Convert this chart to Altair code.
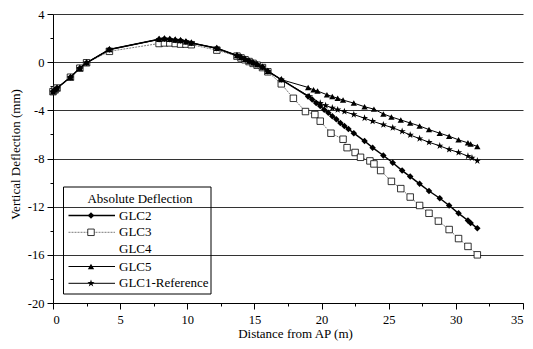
import altair as alt
import pandas as pd

# ---------------- data ----------------
early_x = [0.0, 0.15, 0.3, 1.3, 2.0, 2.5, 4.2, 7.9, 8.3, 8.7, 9.1, 9.5, 9.9, 10.3,
           12.2, 13.7, 14.0, 14.3, 14.6, 14.9, 15.2, 15.6, 16.0, 17.0]
early_y = [-2.45, -2.3, -2.15, -1.25, -0.5, -0.05, 1.05, 1.9, 1.95, 1.9, 1.85, 1.8, 1.7, 1.6,
           1.15, 0.55, 0.4, 0.25, 0.1, -0.05, -0.2, -0.4, -0.75, -1.45]
glc3_early_y = [-2.45, -2.3, -2.15, -1.25, -0.5, -0.05, 0.9, 1.55, 1.6, 1.6, 1.55, 1.5, 1.5, 1.45,
                1.0, 0.5, 0.35, 0.2, 0.05, -0.1, -0.25, -0.45, -0.8, -1.8]

glc2_tail_x = [19.0, 19.3, 19.6, 19.9, 20.2, 20.5, 20.8, 21.1, 21.4, 21.7, 22.0, 22.4, 23.2, 23.8,
               24.6, 25.3, 26.0, 26.6, 27.3, 28.0, 28.8, 29.5, 30.2, 30.9, 31.1, 31.6]
glc2_tail_y = [-2.85, -3.1, -3.4, -3.65, -3.95, -4.2, -4.5, -4.75, -5.05, -5.3, -5.55, -5.9, -6.55, -7.1,
               -7.75, -8.35, -9.0, -9.5, -10.1, -10.7, -11.3, -11.9, -12.55, -13.15, -13.35, -13.8]

glc3_tail_x = [17.9, 18.8, 19.5, 19.9, 20.7, 21.6, 21.9, 22.5, 22.9, 23.6, 23.9, 24.4, 25.2, 25.9,
               26.6, 27.3, 28.0, 28.7, 29.5, 30.2, 30.9, 31.6]
glc3_tail_y = [-3.0, -4.1, -4.35, -4.9, -5.9, -6.4, -7.1, -7.5, -7.9, -8.2, -8.45, -9.0, -9.9, -10.5,
               -11.2, -11.9, -12.55, -13.2, -13.9, -14.65, -15.3, -16.0]

glc5_tail_x = [19.0, 19.4, 19.7, 20.4, 20.8, 21.2, 21.6, 22.4, 23.2, 23.9, 24.6, 25.2, 25.9, 26.6,
               27.3, 28.0, 28.8, 29.5, 30.2, 30.9, 31.1, 31.6]
glc5_tail_y = [-2.1, -2.3, -2.4, -2.7, -2.85, -3.0, -3.15, -3.4, -3.7, -3.9, -4.3, -4.55, -4.8, -5.05,
               -5.3, -5.6, -5.9, -6.15, -6.45, -6.7, -6.8, -7.0]

ref_tail_x = [19.1, 19.9, 20.3, 20.8, 21.2, 21.7, 22.4, 23.2, 23.8, 24.6, 25.3, 26.0, 26.6, 27.3,
              28.0, 28.8, 29.5, 30.2, 30.9, 31.2, 31.6]
ref_tail_y = [-2.85, -3.4, -3.6, -3.8, -3.95, -4.1, -4.35, -4.65, -4.9, -5.2, -5.45, -5.75, -6.05, -6.35,
              -6.65, -6.95, -7.25, -7.5, -7.8, -7.95, -8.2]

legend_title = "Absolute Deflection"
legend_labels = ["GLC2", "GLC3", "GLC4", "GLC5", "GLC1-Reference"]

x_ticks = [i * 2.5 for i in range(15)]
y_ticks = [-20 + 2 * i for i in range(13)]

# ---------------- build ----------------
FONT = "Liberation Serif"
STAR = "M0,-1L0.225,-0.309L0.951,-0.309L0.363,0.118L0.588,0.809L0,0.382L-0.588,0.809L-0.363,0.118L-0.951,-0.309L-0.225,-0.309Z"


def frame(xs, ys):
    return pd.DataFrame({"x": xs, "y": ys, "i": list(range(len(xs)))})


df_glc2 = frame(early_x + glc2_tail_x, early_y + glc2_tail_y)
df_glc3 = frame(early_x + glc3_tail_x, glc3_early_y + glc3_tail_y)
df_glc5 = frame(early_x + glc5_tail_x, early_y + glc5_tail_y)
df_ref = frame(early_x + ref_tail_x, early_y + ref_tail_y)

x_enc = alt.X(
    "x:Q",
    scale=alt.Scale(domain=[0, 35], nice=False, zero=False),
    axis=alt.Axis(
        values=x_ticks,
        title="Distance from AP (m)",
        grid=False,
        labelExpr="datum.value % 5 === 0 ? '' + datum.value : ''",
        tickSize={"condition": {"test": "datum.value % 5 === 0", "value": 6}, "value": 3},
        labelPadding=4,
        titleX=242,
        titleY=30,
        titleBaseline="middle",
    ),
)
y_enc = alt.Y(
    "y:Q",
    scale=alt.Scale(domain=[-20, 4], nice=False, zero=False),
    axis=alt.Axis(
        values=y_ticks,
        title="Vertical Deflection (mm)",
        grid=True,
        gridOpacity={"condition": {"test": "datum.value % 4 === 0", "value": 1}, "value": 0},
        labelExpr="datum.value % 4 === 0 ? '' + datum.value : ''",
        tickSize={"condition": {"test": "datum.value % 4 === 0", "value": 6}, "value": 3},
        labelPadding=3,
        titleX=-38,
        titleY=140,
        titleBaseline="middle",
    ),
)


def layer_pair(df, line_kw, point_kw):
    base = alt.Chart(df).encode(x=x_enc, y=y_enc, order="i:Q")
    return base.mark_line(**line_kw) + base.mark_point(**point_kw)


glc3 = layer_pair(df_glc3,
                  dict(color="#7a7a7a", strokeWidth=1, strokeDash=[2, 1]),
                  dict(shape="square", filled=True, fill="white", stroke="black",
                       strokeWidth=0.8, size=42, opacity=1))
glc2 = layer_pair(df_glc2,
                  dict(color="black", strokeWidth=1.5),
                  dict(shape="diamond", filled=True, color="black", size=42, opacity=1))
glc5 = layer_pair(df_glc5,
                  dict(color="black", strokeWidth=1),
                  dict(shape="triangle-up", filled=True, color="black", size=40, opacity=1))
ref = layer_pair(df_ref,
                 dict(color="black", strokeWidth=1),
                 dict(shape=STAR, filled=True, color="black", size=58, opacity=1))

# ---------------- manual legend (plot-area pixels) ----------------
one = pd.DataFrame({"a": [0]})
legend_layers = [
    alt.Chart(one).mark_rect(fillOpacity=0, stroke="black", strokeWidth=1).encode(
        x=alt.value(10.5), x2=alt.value(158), y=alt.value(173), y2=alt.value(280)),
    alt.Chart(pd.DataFrame({"t": [legend_title]})).mark_text(
        font=FONT, fontSize=13, align="center", baseline="middle", color="black").encode(
        x=alt.value(87), y=alt.value(185), text="t:N"),
]
rows_y = [201.5, 218.3, 235, 252.5, 269.3]
styles = [
    (dict(color="black", strokeWidth=1.5), dict(shape="diamond", filled=True, color="black", size=42, opacity=1)),
    (dict(color="#7a7a7a", strokeWidth=1, strokeDash=[2, 1]),
     dict(shape="square", filled=True, fill="white", stroke="black", strokeWidth=0.8, size=42, opacity=1)),
    (None, None),
    (dict(color="black", strokeWidth=1), dict(shape="triangle-up", filled=True, color="black", size=40, opacity=1)),
    (dict(color="black", strokeWidth=1), dict(shape=STAR, filled=True, color="black", size=58, opacity=1)),
]
for lab, ry, (lk, pk) in zip(legend_labels, rows_y, styles):
    d = pd.DataFrame({"t": [lab]})
    if lk is not None:
        legend_layers.append(alt.Chart(d).mark_rule(**lk).encode(
            x=alt.value(15.5), x2=alt.value(62), y=alt.value(ry)))
        legend_layers.append(alt.Chart(d).mark_point(**pk).encode(
            x=alt.value(38), y=alt.value(ry)))
    legend_layers.append(alt.Chart(d).mark_text(
        font=FONT, fontSize=13, align="left", baseline="middle", color="black").encode(
        x=alt.value(66), y=alt.value(ry), text="t:N"))

chart = alt.layer(glc3, glc2, glc5, ref, *legend_layers).properties(
    width=470,
    height=289,
    autosize="none",
    padding={"left": 45, "top": 6, "right": 2, "bottom": 38},
    background="white",
).configure_view(stroke=None).configure_axis(
    labelFont=FONT,
    labelFontSize=12.5,
    labelColor="black",
    titleFont=FONT,
    titleFontSize=13,
    titleFontWeight="normal",
    titleColor="black",
    domainColor="black",
    tickColor="black",
    gridColor="#333333",
    gridWidth=1,
)

chart.save("out.html", embed_options={"renderer": "svg", "actions": False})
